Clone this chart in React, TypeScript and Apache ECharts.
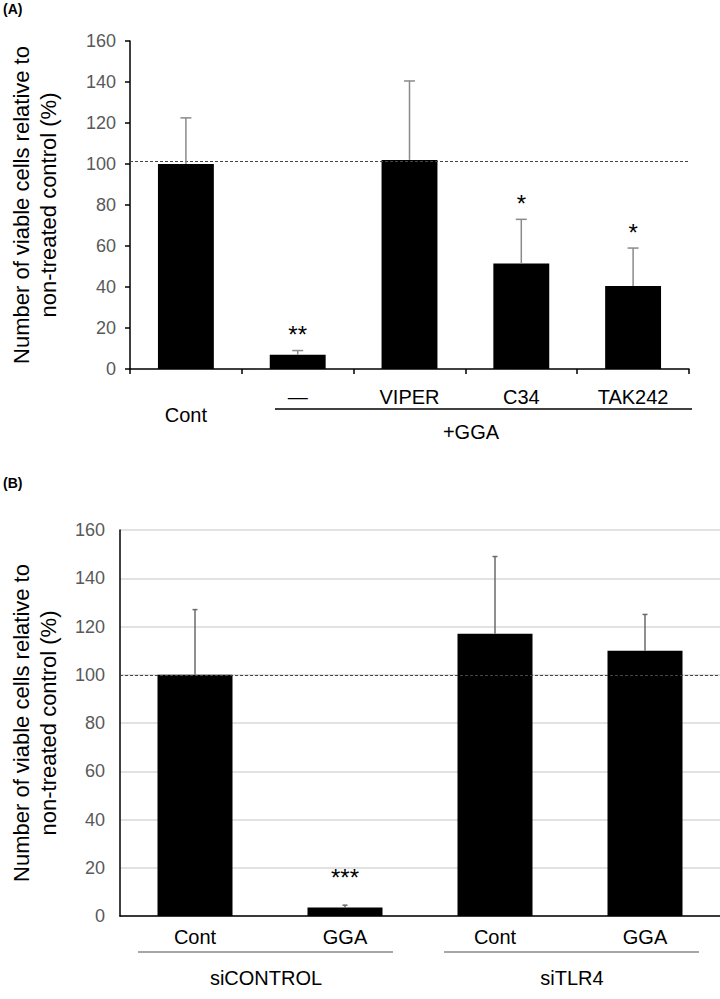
import React, { useEffect, useRef } from "react";
import * as echarts from "echarts";

const FONT = "Liberation Sans, Arial, Helvetica, sans-serif";

// Panel A
const catA = ["Cont", "—", "VIPER", "C34", "TAK242"];
const meanA = [100, 7, 102, 51.5, 40.5];
const upperA = [122.5, 9, 140.5, 73, 59];
const starsA = ["", "**", "", "*", "*"];
const refA = 101.5;

// Panel B
const catB = ["Cont", "GGA", "Cont", "GGA"];
const meanB = [100, 3.5, 117, 110];
const upperB = [127, 4.5, 149, 125];
const starsB = ["", "***", "", ""];
const refB = 100;

const yTitle = "Number of viable cells relative to\nnon-treated control (%)";

function errSeries(xi: number, yi: number, mean: number[], upper: number[], stars: string[], cap: number, starGap: number, color: string) {
  return {
    type: "custom",
    xAxisIndex: xi,
    yAxisIndex: yi,
    z: 5,
    data: mean.map((m, i) => [i, m, upper[i]]),
    renderItem: (params: any, api: any) => {
      const idx = api.value(0);
      const p0 = api.coord([idx, api.value(1)]);
      const p1 = api.coord([idx, api.value(2)]);
      const children: any[] = [
        { type: "line", shape: { x1: p0[0], y1: p0[1], x2: p1[0], y2: p1[1] }, style: { stroke: color, lineWidth: 1.5 } },
        { type: "line", shape: { x1: p1[0] - cap, y1: p1[1], x2: p1[0] + cap, y2: p1[1] }, style: { stroke: color, lineWidth: 1.5 } },
      ];
      const s = stars[params.dataIndex];
      if (s) {
        children.push({
          type: "text",
          style: { text: s, x: p1[0], y: p1[1] - starGap, align: "center", verticalAlign: "middle", fontSize: 24, fontFamily: FONT, fill: "#000" },
        });
      }
      return { type: "group", children };
    },
  };
}

export default function App() {
  const ref = useRef<HTMLDivElement>(null);
  useEffect(() => {
    document.body.style.margin = "0";
    const chart = echarts.init(ref.current!, null, { renderer: "svg" });
    const option: any = {
      animation: false,
      textStyle: { fontFamily: FONT },
      grid: [
        { left: 118, top: 41, width: 571, height: 328 },
        { left: 112, top: 530, width: 608, height: 386 },
      ],
      xAxis: [
        {
          type: "category", gridIndex: 0, data: catA,
          axisLine: { lineStyle: { color: "#000", width: 1.5 } },
          axisTick: { show: true, length: 5, inside: false, lineStyle: { color: "#000", width: 1.5 } },
          axisLabel: {
            margin: 19, fontSize: 20, lineHeight: 18, color: "#000", fontFamily: FONT,
            formatter: (v: string, i: number) => (i === 0 ? "\n" + v : v),
          },
        },
        {
          type: "category", gridIndex: 1, data: catB,
          axisLine: { lineStyle: { color: "#000", width: 1.5 } },
          axisTick: { show: false },
          axisLabel: { margin: 11, fontSize: 20, color: "#000", fontFamily: FONT },
        },
      ],
      yAxis: [
        {
          type: "value", gridIndex: 0, min: 0, max: 160, interval: 20,
          name: yTitle, nameLocation: "middle", nameRotate: 90, nameGap: 68,
          nameTextStyle: { fontSize: 22, lineHeight: 27, color: "#000", fontFamily: FONT },
          axisLine: { show: true, lineStyle: { color: "#000", width: 1.5 } },
          axisTick: { show: true, length: 5, lineStyle: { color: "#000", width: 1.5 } },
          axisLabel: { fontSize: 18, color: "#595959", margin: 14, fontFamily: FONT },
          splitLine: { show: false },
        },
        {
          type: "value", gridIndex: 1, min: 0, max: 160, interval: 20,
          name: yTitle, nameLocation: "middle", nameRotate: 90, nameGap: 58,
          nameTextStyle: { fontSize: 22, lineHeight: 27, color: "#000", fontFamily: FONT },
          axisLine: { show: true, lineStyle: { color: "#000", width: 1.5 } },
          axisTick: { show: false },
          axisLabel: { fontSize: 18, color: "#595959", margin: 15, fontFamily: FONT },
          splitLine: { show: true, lineStyle: { color: "#d9d9d9", width: 1.5 } },
        },
      ],
      series: [
        {
          type: "bar", xAxisIndex: 0, yAxisIndex: 0, data: meanA, barWidth: "50%",
          itemStyle: { color: "#000" },
          markLine: {
            silent: true, symbol: ["none", "none"], label: { show: false },
            lineStyle: { type: [3, 2], color: "#444", width: 1 },
            data: [{ yAxis: refA }],
          },
        },
        errSeries(0, 0, meanA, upperA, starsA, 5.5, 16, "#8a8a8a"),
        {
          type: "bar", xAxisIndex: 1, yAxisIndex: 1, data: meanB, barWidth: "50%",
          itemStyle: { color: "#000" },
          markLine: {
            silent: true, symbol: ["none", "none"], label: { show: false },
            lineStyle: { type: [3, 2], color: "#444", width: 1 },
            data: [{ yAxis: refB }],
          },
        },
        errSeries(1, 1, meanB, upperB, starsB, 2.5, 28, "#6a6a6a"),
      ],
      graphic: [
        { type: "text", left: 3, top: 2, style: { text: "(A)", fontSize: 14, fontWeight: "bold", fontFamily: FONT, fill: "#000" } },
        { type: "text", left: 3, top: 476, style: { text: "(B)", fontSize: 14, fontWeight: "bold", fontFamily: FONT, fill: "#000" } },
        { type: "line", shape: { x1: 275, y1: 409, x2: 692, y2: 409 }, style: { stroke: "#000", lineWidth: 1.5 } },
        { type: "text", x: 471, y: 432, style: { text: "+GGA", fontSize: 20, fontFamily: FONT, fill: "#000", align: "center", verticalAlign: "middle" } },
        { type: "line", shape: { x1: 138, y1: 952, x2: 393, y2: 952 }, style: { stroke: "#8a8a8a", lineWidth: 1.5 } },
        { type: "line", shape: { x1: 444, y1: 952, x2: 699, y2: 952 }, style: { stroke: "#8a8a8a", lineWidth: 1.5 } },
        { type: "text", x: 266, y: 978, style: { text: "siCONTROL", fontSize: 20, fontFamily: FONT, fill: "#000", align: "center", verticalAlign: "middle" } },
        { type: "text", x: 572, y: 978, style: { text: "siTLR4", fontSize: 20, fontFamily: FONT, fill: "#000", align: "center", verticalAlign: "middle" } },
      ],
    };
    chart.setOption(option);
    return () => chart.dispose();
  }, []);
  return <div ref={ref} style={{ width: 720, height: 999 }} />;
}
